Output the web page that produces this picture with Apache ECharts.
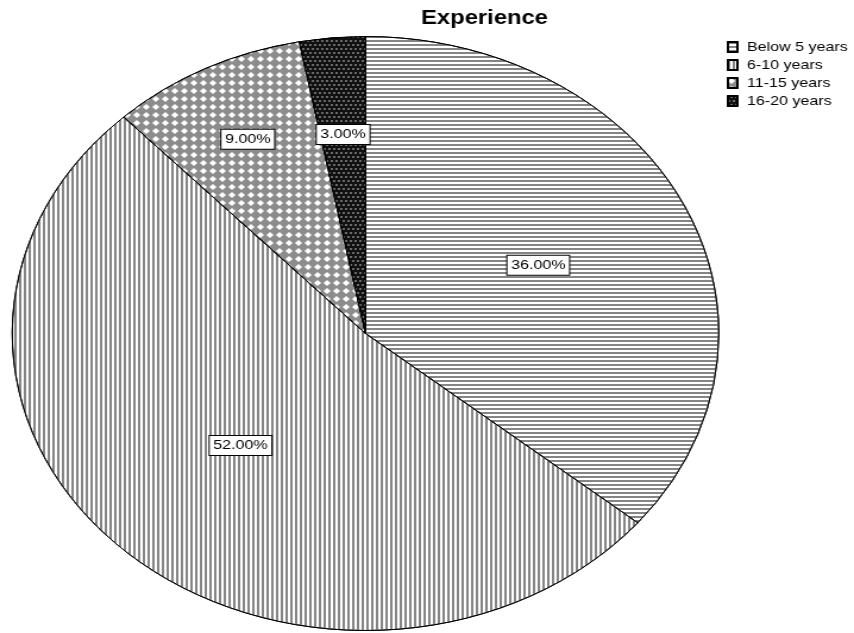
<!DOCTYPE html>
<html>
<head>
<meta charset="utf-8">
<script src="https://cdn.jsdelivr.net/npm/echarts@6/dist/echarts.min.js"></script>
<style>
html,body{margin:0;padding:0;background:#fff;overflow:hidden;}
#wrap{width:854px;height:633px;overflow:hidden;position:relative;}
#chart{width:718px;height:633px;transform:scaleX(1.1894);transform-origin:0 0;position:absolute;left:0;top:0;}
</style>
</head>
<body>
<div id="wrap"><div id="chart"></div></div>
<script>
// ---- data ----
const titleText = 'Experience';
const categories = ['Below 5 years', '6-10 years', '11-15 years', '16-20 years'];
const percentValues = [36, 52, 9, 3];

// ---- styles ----
const FONT = 'Liberation Sans, Arial, sans-serif';
const fills = [
  { color: '#ffffff', decal: { symbol: 'rect', symbolSize: 1, dashArrayX: [1, 0], dashArrayY: [2, 2], color: '#858585' } },
  { color: '#ffffff', decal: { symbol: 'rect', symbolSize: 1, dashArrayX: [2, 2], dashArrayY: [1, 0], color: '#858585' } },
  { color: '#8c8c8c', decal: { symbol: 'diamond', symbolSize: 1, dashArrayX: [5.5, 1.5], dashArrayY: [5.5, 1.5], color: '#ffffff' } },
  { color: '#111111', decal: { symbol: 'rect', symbolSize: 1, dashArrayX: [[2, 2], [0, 2, 2, 0]], dashArrayY: [2, 2], color: '#6a6a6a' } }
];
// label distance from centre (as the outer radius of an invisible label ring, label sits at half of it)
const labelRings = [315, 301, 430, 394];

const CENTER = [307.3, 333.5];
const R = 297;

const mainData = categories.map((name, i) => ({
  name: name,
  value: percentValues[i],
  itemStyle: { color: fills[i].color, decal: fills[i].decal, borderColor: '#000', borderWidth: 1 }
}));

const labelStyle = {
  show: true,
  position: 'inside',
  formatter: p => p.value.toFixed(2) + '%',
  color: '#000',
  fontFamily: FONT,
  fontSize: 13.5,
  backgroundColor: '#fff',
  borderColor: '#000',
  borderWidth: 1,
  padding: [3, 3, 2, 3]
};

function labelSeries(k) {
  return {
    type: 'pie',
    center: CENTER,
    radius: [0, labelRings[k]],
    startAngle: 90,
    silent: true,
    avoidLabelOverlap: false,
    label: labelStyle,
    labelLine: { show: false },
    emphasis: { disabled: true },
    data: categories.map((name, i) => ({
      name: name,
      value: percentValues[i],
      label: { show: i === k },
      itemStyle: { color: 'rgba(0,0,0,0)', borderWidth: 0 }
    }))
  };
}

const chart = echarts.init(document.getElementById('chart'), null, { renderer: 'canvas' });
chart.setOption({
  animation: false,
  backgroundColor: '#fff',
  title: {
    text: titleText,
    left: 349,
    top: 3,
    textStyle: { fontFamily: FONT, fontSize: 20, fontWeight: 'bold', color: '#000' }
  },
  legend: {
    orient: 'vertical',
    left: 606,
    top: 35,
    itemWidth: 8,
    itemHeight: 10,
    itemGap: 4,
    icon: 'rect',
    selectedMode: false,
    data: categories,
    textStyle: { fontFamily: FONT, fontSize: 13.5, color: '#000', padding: [0, 0, 0, 3] }
  },
  series: [
    {
      type: 'pie',
      center: CENTER,
      radius: [0, R],
      startAngle: 90,
      clockwise: true,
      avoidLabelOverlap: false,
      label: { show: false },
      labelLine: { show: false },
      emphasis: { disabled: true },
      data: mainData
    },
    labelSeries(0),
    labelSeries(1),
    labelSeries(2),
    labelSeries(3)
  ]
});
</script>
</body>
</html>
